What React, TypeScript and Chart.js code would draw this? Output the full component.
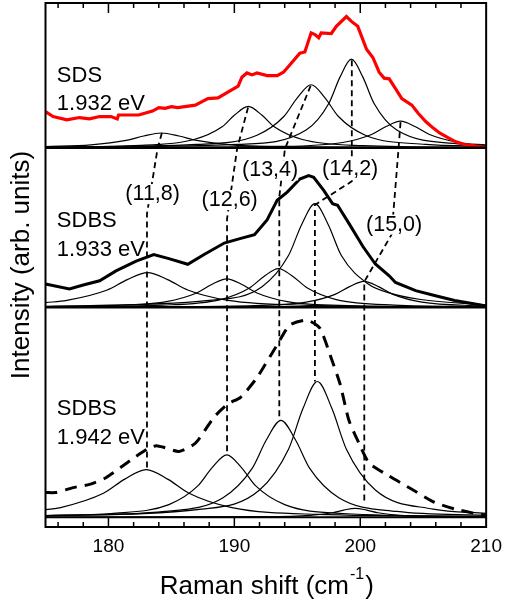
import React, { useEffect, useRef } from "react";
import { Chart, registerables } from "chart.js";

Chart.register(...registerables);

const FONT = '"Liberation Sans", Arial, Helvetica, sans-serif';

// ---- axes ----
const X_MIN = 175;
const X_MAX = 210;
const Y_MIN = 0;
const Y_MAX = 532;
const X_TICK_LABELS = [180, 190, 200, 210];
const X_TICK_MARKS = [176, 178, 180, 182, 184, 186, 188, 190, 192, 194, 196, 198, 200, 202, 204, 206, 208];
const X_TITLE_MAIN = "Raman shift (cm";
const X_TITLE_SUP = "-1";
const X_TITLE_END = ")";
const Y_TITLE = "Intensity (arb. units)";

// ---- panels (vertical offsets of each spectrum's baseline) ----
const PANEL_OFFSETS = [385, 223, 10];
const PANEL_NAMES = ["SDS", "SDBS", "SDBS"];
const PANEL_ENERGIES = ["1.932 eV", "1.933 eV", "1.942 eV"];

// ---- measured spectra: [Raman shift, intensity] ----
const SDS_1932: number[][] = [
  [175.0, 36.7], [175.6, 31.7], [176.7, 28.3], [177.7, 30.7], [178.5, 29.3], [179.3, 31.7],
  [180.2, 31.7], [180.7, 29.3], [180.8, 33.3], [182.4, 33.3], [183.5, 37.3], [184.0, 40.7],
  [184.5, 40.0], [185.0, 41.7], [185.5, 40.7], [186.9, 43.3], [187.4, 46.7], [187.9, 50.0],
  [188.7, 50.7], [190.3, 62.7], [190.6, 71.7], [191.0, 76.0], [191.4, 74.0], [191.8, 76.0],
  [192.6, 73.3], [193.4, 73.3], [193.9, 76.7], [194.4, 84.0], [195.2, 96.0], [195.6, 97.3],
  [196.1, 116.7], [196.4, 115.0], [196.7, 111.7], [196.9, 116.7], [197.7, 116.0], [198.1, 123.3],
  [198.9, 133.3], [199.3, 128.3], [199.8, 123.3], [200.5, 100.0], [201.0, 91.7], [201.5, 76.7],
  [201.9, 70.7], [202.3, 70.0], [202.8, 60.0], [203.3, 50.0], [204.1, 43.3], [204.6, 35.0],
  [205.2, 26.7], [205.8, 20.0], [206.3, 15.0], [207.0, 10.0], [207.6, 6.0], [208.3, 3.3],
  [209.6, 1.0], [210.0, 0.5],
];

const SDBS_1933: number[][] = [
  [175.0, 23.7], [176.9, 18.7], [178.0, 22.7], [179.3, 27.0], [180.6, 37.0], [182.2, 47.0],
  [183.6, 53.5], [184.8, 49.5], [186.3, 43.7], [187.6, 53.7], [189.2, 65.3], [190.3, 69.3],
  [191.6, 73.7], [192.6, 88.7], [193.4, 108.7], [194.2, 117.0], [195.2, 130.3], [195.9, 133.7],
  [196.3, 132.0], [197.1, 118.7], [197.8, 105.3], [198.2, 103.7], [199.1, 85.3], [200.2, 62.0],
  [201.2, 44.0], [202.3, 32.0], [202.8, 25.3], [204.4, 17.0], [205.9, 12.0], [207.5, 7.0],
  [209.0, 3.7], [210.0, 1.5],
];

const SDBS_1942: number[][] = [
  [175.0, 25.0], [175.8, 25.0], [177.2, 30.0], [178.5, 33.3], [179.8, 40.0], [181.1, 51.7],
  [182.2, 61.7], [183.2, 70.0], [183.8, 72.5], [184.5, 70.5], [185.6, 66.7], [186.9, 75.0],
  [188.4, 101.7], [189.5, 115.0], [190.5, 121.7], [191.8, 141.7], [193.4, 175.0], [194.4, 195.0],
  [195.8, 200.0], [196.8, 191.7], [197.6, 165.0], [198.4, 135.0], [199.1, 98.3], [199.9, 75.0],
  [200.7, 55.0], [202.3, 41.7], [204.1, 28.3], [205.9, 15.0], [207.5, 8.3], [209.3, 3.3],
  [210.0, 2.0],
];

// ---- fitted components (11,8) (12,6) (13,4) (14,2) (15,0) ----
const SDS_FIT: number[][][] = [
  [[175, 1.3], [178.6, 3.0], [181.4, 7.5], [182.8, 12], [184.2, 15], [185.6, 12], [187.0, 7.5], [189.8, 3.0], [195, 0.9], [210, 0.2]],
  [[175, 0.7], [182, 2.2], [186.8, 8.4], [189.0, 21], [190.0, 33], [191.1, 42], [192.2, 33], [193.2, 21], [195.4, 8.4], [200.2, 2.2], [210, 0.5]],
  [[175, 0.7], [187, 3.4], [191.8, 12.8], [193.95, 32], [195.0, 50.7], [196.1, 64], [197.2, 50.7], [198.25, 32], [200.4, 12.8], [205.2, 3.4], [210, 1.5]],
  [[175, 0.5], [190.3, 3.5], [195.7, 18], [197.5, 45], [198.4, 72], [199.3, 90], [200.2, 72], [201.1, 45], [202.9, 18], [208.3, 3.5], [210, 2.5]],
  [[175, 0.1], [193.4, 1.4], [198.6, 5.4], [200.9, 13.5], [202.05, 21.6], [203.2, 27], [204.35, 21.6], [205.5, 13.5], [207.8, 5.4], [210, 2.8]],
];

const SDBS_1933_FIT: number[][][] = [
  [[175, 4.8], [176.7, 7.1], [179.9, 17.6], [181.5, 28.2], [183.1, 35.3], [184.7, 28.2], [186.3, 17.6], [189.5, 7.1], [195.9, 2.1], [210, 0.5]],
  [[175, 0.8], [179.8, 1.7], [184.6, 5.8], [187.0, 14.5], [188.2, 23.2], [189.4, 29], [190.6, 23.2], [191.8, 14.5], [194.2, 5.8], [199.0, 1.7], [210, 0.4]],
  [[175, 0.6], [184.3, 2.3], [188.9, 7.9], [191.2, 19.6], [192.35, 31.4], [193.5, 39.3], [194.65, 31.4], [195.8, 19.6], [198.1, 7.9], [202.7, 2.3], [210, 0.8]],
  [[175, 1.0], [188.0, 7], [192.2, 21], [194.3, 52.6], [195.35, 84.2], [196.4, 105.3], [197.45, 84.2], [198.5, 52.6], [200.6, 24], [202.5, 14], [204.8, 8], [210, 2.5]],
  [[175, 0.2], [191.1, 1.6], [195.7, 5.3], [198.0, 13.2], [199.15, 21], [200.3, 26.3], [201.45, 21], [202.6, 13.2], [204.9, 5.3], [209.5, 1.6], [210, 1.4]],
];

const SDBS_1942_FIT: number[][][] = [
  [[175, 7.4], [176.2, 9.7], [179.6, 24.2], [181.3, 38.6], [183.0, 48.3], [184.7, 38.6], [186.4, 24.2], [189.8, 9.7], [196.6, 2.8], [210, 0.8]],
  [[175, 1.6], [180.2, 3.7], [184.8, 12.7], [187.1, 31.7], [188.25, 50.6], [189.4, 63.3], [190.55, 50.6], [191.7, 31.7], [194.0, 12.7], [198.6, 3.7], [210, 0.8]],
  [[175, 1.5], [184.5, 5.8], [189.1, 19.7], [191.4, 49.2], [192.55, 78.6], [193.7, 98.3], [194.85, 78.6], [196.0, 49.2], [198.3, 19.7], [202.9, 5.8], [210, 1.9]],
  [[175, 1.5], [187.4, 8.1], [192.0, 27.5], [194.3, 68.9], [195.45, 110.2], [196.6, 137.7], [197.75, 110.2], [198.9, 68.9], [201.2, 27.5], [205.8, 8.1], [210, 3.9]],
  [[175, 0.1], [192.4, 0.5], [196.0, 1.8], [197.8, 4.5], [198.7, 7.2], [199.6, 9], [200.5, 7.2], [201.4, 4.5], [203.2, 1.8], [206.8, 0.5], [210, 0.3]],
];

// ---- chirality guide lines (Raman shift, stacked intensity) ----
const CHIRALITIES = ["(11,8)", "(12,6)", "(13,4)", "(14,2)", "(15,0)"];
const GUIDES: number[][][] = [
  [[184.24, 400], [183.9, 384], [183.06, 318], [183.06, 58.3]],
  [[191.09, 426], [190.22, 384], [189.42, 313], [189.42, 73.3]],
  [[196.06, 448], [194.02, 384], [193.57, 335], [193.57, 108.3]],
  [[199.33, 474], [199.33, 351], [196.4, 327], [196.4, 147.7]],
  [[203.2, 411], [203.04, 384], [202.49, 297], [200.32, 249], [200.32, 23]],
];
const CHIRALITY_LABEL_AT: number[][] = [
  [183.51, 338], [189.63, 332], [192.84, 362], [199.2, 363], [202.69, 307],
];
const PANEL_LABEL_X = 175.9;
const PANEL_NAME_Y = [451.7, 305, 113.3];
const PANEL_ENERGY_Y = [423.3, 275, 84];

const stackPts = (pts: number[][], off: number) => pts.map(([x, h]) => ({ x, y: h + off }));
const rawPts = (pts: number[][]) => pts.map(([x, y]) => ({ x, y }));

const decor = {
  id: "decor",
  afterDatasetsDraw(chart: any) {
    const { ctx, chartArea: a, scales } = chart;
    const xs = scales.x;
    const ys = scales.y;
    ctx.save();
    ctx.strokeStyle = "#000";
    ctx.fillStyle = "#000";
    // panel baselines
    PANEL_OFFSETS.forEach((off, i) => {
      const py = ys.getPixelForValue(off);
      ctx.lineWidth = i < 2 ? 2.5 : 2;
      ctx.beginPath();
      ctx.moveTo(a.left, py);
      ctx.lineTo(a.right, py);
      ctx.stroke();
    });
    // frame
    ctx.lineWidth = 2;
    ctx.strokeRect(a.left, a.top, a.right - a.left, a.bottom - a.top);
    // inward ticks
    ctx.lineWidth = 1.5;
    X_TICK_MARKS.forEach((v) => {
      const px = xs.getPixelForValue(v);
      const len = v % 10 === 0 ? 10 : 5;
      ctx.beginPath();
      ctx.moveTo(px, a.top);
      ctx.lineTo(px, a.top + len);
      ctx.moveTo(px, a.bottom);
      ctx.lineTo(px, a.bottom - len);
      ctx.stroke();
    });
    // panel labels
    ctx.font = `22px ${FONT}`;
    ctx.textAlign = "left";
    ctx.textBaseline = "alphabetic";
    const lx = xs.getPixelForValue(PANEL_LABEL_X);
    PANEL_NAMES.forEach((n, i) => {
      ctx.fillText(n, lx, ys.getPixelForValue(PANEL_NAME_Y[i]));
      ctx.fillText(PANEL_ENERGIES[i], lx, ys.getPixelForValue(PANEL_ENERGY_Y[i]));
    });
    // chirality labels
    ctx.font = `21.5px ${FONT}`;
    ctx.textAlign = "center";
    ctx.textBaseline = "middle";
    CHIRALITIES.forEach((c, i) => {
      const px = xs.getPixelForValue(CHIRALITY_LABEL_AT[i][0]);
      const py = ys.getPixelForValue(CHIRALITY_LABEL_AT[i][1]);
      const w = ctx.measureText(c).width;
      ctx.fillStyle = "#fff";
      ctx.fillRect(px - w / 2, py - 10, w, 20);
      ctx.fillStyle = "#000";
      ctx.fillText(c, px, py);
    });
    // x title with superscript
    const cx = (a.left + a.right) / 2;
    const base = a.bottom + 66.5;
    ctx.textAlign = "left";
    ctx.textBaseline = "alphabetic";
    ctx.font = `26px ${FONT}`;
    const w1 = ctx.measureText(X_TITLE_MAIN).width;
    const w3 = ctx.measureText(X_TITLE_END).width;
    ctx.font = `16px ${FONT}`;
    const w2 = ctx.measureText(X_TITLE_SUP).width;
    let sx = cx - (w1 + w2 + w3) / 2;
    ctx.font = `26px ${FONT}`;
    ctx.fillText(X_TITLE_MAIN, sx, base);
    sx += w1;
    ctx.font = `16px ${FONT}`;
    ctx.fillText(X_TITLE_SUP, sx + 1, base - 15);
    sx += w2 + 2;
    ctx.font = `26px ${FONT}`;
    ctx.fillText(X_TITLE_END, sx, base);
    ctx.restore();
  },
};

export default function App() {
  const ref = useRef<HTMLCanvasElement | null>(null);

  useEffect(() => {
    if (!ref.current) return;
    const comp = (pts: number[][], off: number) => ({
      data: stackPts(pts, off),
      borderColor: "#000",
      borderWidth: 1.2,
      pointRadius: 0,
      cubicInterpolationMode: "monotone" as const,
      fill: false,
      order: 3,
    });
    const datasets: any[] = [];
    GUIDES.forEach((g) =>
      datasets.push({
        data: rawPts(g),
        borderColor: "#000",
        borderWidth: 1.8,
        borderDash: [6, 4],
        pointRadius: 0,
        tension: 0,
        fill: false,
        order: 0,
      })
    );
    datasets.push({
      data: stackPts(SDS_1932, PANEL_OFFSETS[0]),
      borderColor: "#ff0000",
      borderWidth: 3.2,
      pointRadius: 0,
      tension: 0,
      fill: false,
      order: 1,
    });
    datasets.push({
      data: stackPts(SDBS_1933, PANEL_OFFSETS[1]),
      borderColor: "#000",
      borderWidth: 3,
      pointRadius: 0,
      tension: 0,
      fill: false,
      order: 1,
    });
    datasets.push({
      data: stackPts(SDBS_1942, PANEL_OFFSETS[2]),
      borderColor: "#000",
      borderWidth: 3,
      borderDash: [12, 8],
      pointRadius: 0,
      tension: 0.2,
      fill: false,
      order: 1,
    });
    SDS_FIT.forEach((p) => datasets.push(comp(p, PANEL_OFFSETS[0])));
    SDBS_1933_FIT.forEach((p) => datasets.push(comp(p, PANEL_OFFSETS[1])));
    SDBS_1942_FIT.forEach((p) => datasets.push(comp(p, PANEL_OFFSETS[2])));

    const chart = new Chart(ref.current, {
      type: "line",
      data: { datasets },
      options: {
        animation: false,
        responsive: false,
        devicePixelRatio: 1,
        layout: { padding: { left: 0, right: 18, top: 3, bottom: 46.2 } },
        plugins: { legend: { display: false }, tooltip: { enabled: false } },
        scales: {
          x: {
            type: "linear",
            min: X_MIN,
            max: X_MAX,
            grid: { display: false, drawTicks: false },
            border: { display: false },
            afterBuildTicks: (s: any) => {
              s.ticks = X_TICK_LABELS.map((v) => ({ value: v }));
            },
            ticks: {
              color: "#000",
              font: { family: FONT, size: 19 },
              padding: 8,
              maxRotation: 0,
              autoSkip: false,
              callback: (v: any) => String(v),
            },
          },
          y: {
            type: "linear",
            min: Y_MIN,
            max: Y_MAX,
            grid: { display: false, drawTicks: false },
            border: { display: false },
            ticks: { display: false },
            title: {
              display: true,
              text: Y_TITLE,
              color: "#000",
              font: { family: FONT, size: 26, lineHeight: 1.2 },
              padding: { top: 6, bottom: 8.3 },
            },
          },
        },
      },
      plugins: [decor],
    });
    return () => chart.destroy();
  }, []);

  return (
    <div style={{ position: "absolute", left: 0, top: 0, width: 510, height: 612, background: "#fff" }}>
      <canvas ref={ref} width={510} height={612} style={{ display: "block" }} />
    </div>
  );
}
